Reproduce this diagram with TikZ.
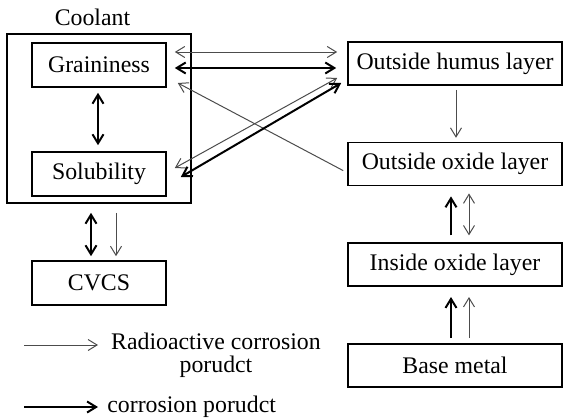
\documentclass[tikz,border=0pt]{standalone}
\usepackage{fontspec}
\setmainfont{Liberation Serif}
\usetikzlibrary{arrows.meta, calc, positioning}
\tikzstyle{partbox} = [rectangle, minimum width=67pt, minimum height=22pt,
inner sep=0pt, draw=black, line width=0.8pt]
\tikzstyle{layerbox} = [rectangle, minimum width=107pt, minimum height=21.5pt,
inner sep=0pt, draw=black, line width=0.8pt]
\tikzstyle{thinarrow} = [line width=0.5pt, draw=black!70, >={Straight Barb[length=4.5pt,width=5.5pt]}]
\tikzstyle{thickarrow} = [line width=1pt, draw=black, >={Straight Barb[length=4.5pt,width=5.5pt]}]

\begin{document}
\begin{tikzpicture}[x=0.5pt, y=-0.5pt, font=\fontsize{11.9}{14.3}\selectfont]
      \useasboundingbox (0,0) rectangle (564,418);

      \node (coolant) [rectangle, draw=black, line width=0.8pt, minimum width=92pt,
        minimum height=84.5pt, label={[xshift=-3.25pt]above:Coolant}] at (99,118.5) {};
      \node (grain) [partbox] at (99,65) {Graininess};
      \node (sol) [partbox, below=31.7pt of grain] {Solubility};
      \node (cvcs) [partbox, below=28.2pt of coolant] {CVCS};

      \node (humus) [layerbox] at (455,63.5) {Outside humus layer};
      \node (outox) [layerbox, below=28pt of humus] {Outside oxide layer};
      \node (inox) [layerbox, below=28pt of outox] {Inside oxide layer};
      \node (base) [layerbox, below=28pt of inox] {Base metal};

      \draw [thickarrow, <->] ([shift={(-1,5)}]grain.south) -- ([shift={(-1,-6)}]sol.north);
      \draw [thickarrow, <->] ([shift={(-8,9)}]coolant.south) -- ([shift={(-8,-4)}]cvcs.north);
      \draw [thinarrow, ->] ([shift={(17,9)}]coolant.south) -- ([shift={(17,-4)}]cvcs.north);

      \draw [thinarrow, <->] ([shift={(8,-13)}]grain.east) -- ([shift={(-10,-11.5)}]humus.west);
      \draw [thickarrow, <->] ([shift={(8,3)}]grain.east) -- ([shift={(-11,4.5)}]humus.west);
      \draw [thinarrow, ->] ([shift={(-4,6.5)}]outox.west) -- ([shift={(11,18)}]grain.east);
      \draw [thinarrow, <->] ([shift={(8,-6)}]sol.east) -- ([shift={(-10,14.5)}]humus.west);
      \draw [thickarrow, <->] ([shift={(14,3)}]sol.east) -- ([shift={(-6,19.5)}]humus.west);

      \draw [thinarrow, ->] ([shift={(1,4)}]humus.south) -- ([shift={(1,-4)}]outox.north);
      \draw [thickarrow, ->] ([shift={(-4,-7)}]inox.north) -- ([shift={(-4,10)}]outox.south);
      \draw [thinarrow, <->] ([shift={(14,-7)}]inox.north) -- ([shift={(14,7)}]outox.south);
      \draw [thickarrow, ->] ([shift={(-4,-5)}]base.north) -- ([shift={(-4,10)}]inox.south);
      \draw [thinarrow, ->] ([shift={(14,-5)}]base.north) -- ([shift={(14,10)}]inox.south);

      \coordinate (radstart) at (24,345);
      \coordinate (radend) at (98,345);
      \node (radtext) [anchor=north, inner sep=0pt, align=center] at (216,333)
      {Radioactive corrosion\\[-3pt]porudct};
      \draw [thinarrow, ->] (radstart) -- (radend);

      \coordinate (corrstart) at (24,407);
      \node (corrtext) [anchor=west, inner sep=0pt] at (107,407) {corrosion porudct};
      \draw [thickarrow, ->] (corrstart) -- ([xshift=-4.5pt]corrtext.west);
    \end{tikzpicture}
\end{document}
